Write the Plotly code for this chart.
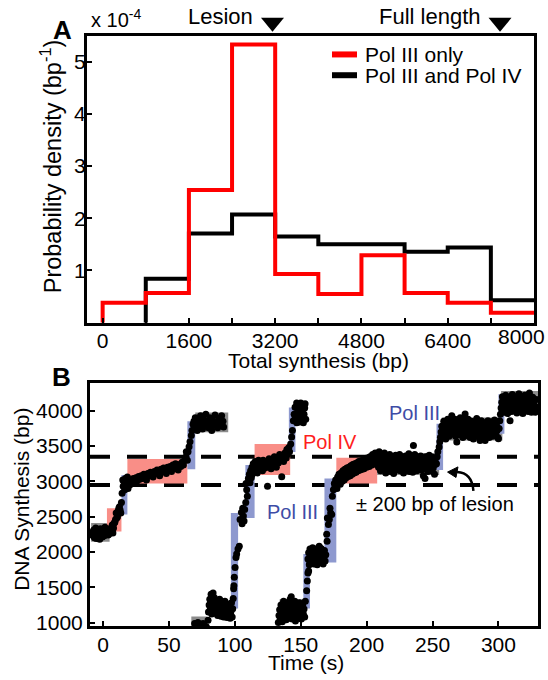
import plotly.graph_objects as go

W, H = 548, 680
FONT = "Liberation Sans, Arial, sans-serif"

# ---------------- Panel A data ----------------
bin_edges = [0, 800, 1600, 2400, 3200, 4000, 4800, 5600, 6400, 7200, 8000]
pol3_only = [0.38, 0.57, 2.54, 5.33, 0.93, 0.55, 1.29, 0.57, 0.38, 0.19]      # x 1e-4 bp^-1
pol3_pol4 = [0.0, 0.84, 1.71, 2.07, 1.65, 1.50, 1.50, 1.36, 1.44, 0.43]       # x 1e-4 bp^-1
hist_major_ticks = [0, 1600, 3200, 4800, 6400]
hist_minor_ticks = [800, 2400, 4000, 5600, 7200, 8000]
hist_last_label = "8000"
density_ticks = [1, 2, 3, 4, 5]
lesion_bp = 3150
full_length_bp = 7370
lesion_window = [2950, 3350]

# ---------------- Panel B data (time s, DNA synthesis bp) ----------------
run1 = [(-8, 2280), (-7.5, 2230), (-7, 2310), (-6.5, 2200), (-6, 2260), (-5.5, 2340), (-5, 2190),
        (-4.5, 2250), (-4, 2300), (-3.5, 2220), (-3, 2270), (-2.5, 2180), (-2, 2330), (-1.5, 2240),
        (-1, 2290), (-0.5, 2210), (0, 2260), (0.5, 2300), (1, 2230), (1.5, 2350), (2, 2270),
        (2.5, 2320), (3, 2250), (3.5, 2300), (4, 2240),
        (4.5, 2290), (5, 2260), (5.5, 2320), (6, 2340), (6.5, 2300), (7, 2380), (7.5, 2270),
        (8, 2340), (8.5, 2410), (9, 2420), (9.5, 2460), (10, 2550), (10.5, 2480), (11, 2500),
        (11.5, 2580), (12, 2620), (12.5, 2640), (13, 2590), (13.5, 2550),
        (14, 2700), (14.5, 2830), (15, 3020), (15.3, 2930), (16, 2990), (16.5, 2880), (17, 3040),
        (17.5, 2920), (18, 3000), (18.5, 3060), (19, 2900), (19.5, 2980), (20, 2950), (20.5, 3020),
        (21, 2960),
        (22, 3000), (23, 3040), (24, 2980), (25, 3050), (26, 3010), (27, 3070), (28, 3030),
        (29, 3080), (30, 3040), (31, 3100), (32, 3060), (33, 3020), (34, 3110), (35, 3080),
        (36, 3130), (37, 3090), (38, 3060), (39, 3140), (40, 3110), (41, 3160), (42, 3120),
        (43, 3080), (44, 3170), (45, 3140), (46, 3190), (47, 3150), (48, 3110), (49, 3200),
        (50, 3170), (51, 3210), (52, 3140), (53, 3230), (54, 3190), (55, 3250), (56, 3200),
        (57, 3160), (58, 3240), (59, 3210), (60, 3270), (61, 3230), (62, 3300), (63, 3350),
        (63.2, 3420),
        (64, 3300), (64.5, 3420), (65.3, 3490), (66, 3560), (67, 3650), (67.5, 3720), (68.3, 3810),
        (69, 3850), (69.5, 3760), (70, 3900), (71, 3800), (71.5, 3720), (72, 3870), (73, 3780),
        (74, 3930), (75, 3830), (75.5, 3740), (76, 3880), (77, 3800), (78, 3950), (79, 3850),
        (80, 3760), (81, 3900), (82, 3820), (82.5, 3720), (83, 3870), (84, 3790), (85, 3940),
        (86, 3840), (87, 3760), (88, 3890), (89, 3810), (90, 3930), (91, 3850), (91.5, 3770)]

run2 = [(69.5, 986), (71, 960), (72, 1000), (74, 970), (75.9, 986), (77, 950), (78.4, 939), (79.7, 1033),
        (80, 1150), (80.5, 1250), (81, 1330), (81.5, 1200), (82, 1400), (82.5, 1120), (83, 1280),
        (83.5, 1420), (84, 1180), (84.5, 1350), (85, 1240), (85.5, 1130), (86, 1300), (86.5, 1200),
        (87, 1100), (87.5, 1260), (88, 1170), (88.5, 1330), (89, 1220), (89.5, 1090), (90, 1280),
        (90.5, 1160), (91, 1240), (91.5, 1080), (92, 1200), (92.5, 1300), (93, 1130), (93.5, 1230),
        (94, 1070), (94.5, 1180), (95, 1260), (95.5, 1100), (96, 1210), (96.5, 1060), (97, 1150),
        (97.5, 1280), (98, 1080), (98.4, 1196),
        (98.8, 1340), (99.1, 1480), (99.3, 1520), (99.6, 1640), (100.2, 1780), (100.9, 1920),
        (101.4, 1970), (102.4, 2040), (103.4, 2080),
        (104, 2460), (105, 2560), (105.5, 2400), (106, 2620), (106.5, 2510), (107, 2440), (107.5, 2600),
        (108.3, 2700), (108.5, 2970), (109, 2880), (109.5, 2790), (110.3, 3040),
        (111, 3100), (111.5, 2980), (112, 3150), (112.5, 3050), (113, 3200), (113.5, 3100), (114, 3250),
        (115, 3150), (115.5, 3280), (116, 3200), (117, 3120), (117.5, 3240), (118, 3300), (119, 3180),
        (119.5, 3260), (120, 3220), (121, 3150), (121.5, 3300), (122, 3240), (123, 3190), (124, 3280),
        (124.8, 2930), (125, 3220), (126, 3320), (127, 3250), (127.5, 3180), (128, 3300), (129, 3230),
        (130, 3350), (131, 3270), (131.5, 3200), (132, 3320), (133, 3260), (134, 3380), (135, 3300),
        (135.6, 3065), (136, 3350), (137, 3280), (138, 3400), (139, 3330), (139.5, 3450), (140, 3380),
        (141, 3480),
        (141.5, 3420), (142.4, 3530), (143.1, 3630), (143.7, 3720), (144.4, 3860), (145, 3950),
        (145.7, 4050), (146, 3900), (146.9, 4110), (147, 3830), (147.5, 3980), (148.2, 4070),
        (148.5, 3930), (149, 3840), (149.5, 4020), (150, 4110), (150.7, 3890), (151, 3980),
        (151.5, 4080), (152, 3830), (152.5, 3950), (153, 4040), (153.3, 4100), (153.8, 3880)]

run3 = [(133, 1000), (133.5, 1100), (134, 1180), (134.5, 1050), (135, 1250), (135.5, 1120), (136, 1010),
        (136.5, 1200), (137, 1300), (137.5, 1080), (138, 1160), (138.5, 1240), (139, 1040), (139.5, 1190),
        (140, 1280), (140.5, 1110), (141, 1060), (141.5, 1220), (142, 1330), (142.8, 1364), (143, 1150),
        (143.5, 1050), (144, 1260), (144.5, 1180), (145, 1100), (145.5, 1300), (146, 1020), (146.5, 1200),
        (147, 1130), (147.5, 1250), (148, 1060), (148.5, 1170), (149, 1280), (149.5, 1100), (150, 1200),
        (150.5, 1050), (151, 1150), (151.5, 1240), (152, 1120), (152.5, 1190), (153, 1080),
        (153.5, 1300), (154.5, 1450), (155, 1590), (155.5, 1700), (156, 1730), (157, 1850),
        (155.5, 1900), (156, 1990), (156.5, 1820), (157, 2040), (157.5, 1930), (158, 1860), (158.5, 1980),
        (159, 2060), (159.5, 1900), (160, 1830), (160.5, 1960), (161, 2040), (161.5, 1880), (162, 1940),
        (162.5, 1820), (163, 2000), (163.5, 1910), (164, 2080), (164.5, 1850), (165, 1960), (165.5, 2050),
        (166, 1890), (166.5, 1980), (167, 1830), (167.5, 1930), (168, 2020), (168.5, 1870), (169, 1960),
        (169.7, 2250), (170, 2150), (170.2, 2480), (171, 2390), (171.7, 2460), (172.2, 2620), (172.7, 2550),
        (173.5, 2530), (174, 2790), (174.8, 2880), (175.5, 2970),
        (176, 2920), (176.5, 3020), (177, 2980), (177.5, 2900), (178, 3060), (178.5, 2990), (179, 3100),
        (179.5, 3030), (180, 2960), (180.5, 3120), (181, 3050), (181.5, 3000), (182, 3150), (182.5, 3080),
        (183, 3020), (183.5, 3170), (184, 3100), (184.5, 3050), (185, 3190), (185.5, 3120), (186, 3070),
        (186.5, 3200), (187, 3140), (187.5, 3080), (188, 3220), (188.5, 3160), (189, 3100), (189.5, 3240),
        (190, 3170), (190.5, 3120), (191, 3250), (191.5, 3190), (192, 3130), (192.5, 3260), (193, 3200),
        (193.5, 3150), (194, 3280), (194.5, 3210), (195, 3160), (195.5, 3290), (196, 3230), (196.5, 3170),
        (197, 3300), (197.5, 3240), (198, 3180), (198.5, 3320), (199, 3250), (200, 3200), (200.5, 3330),
        (201, 3270), (202, 3210), (202.5, 3350), (203, 3280), (204, 3230), (204.5, 3380), (205, 3300),
        (206, 3250), (206.5, 3400), (207, 3320), (208, 3270),
        (208.5, 3350), (209, 3200), (209.5, 3420), (210, 3280), (210.5, 3150), (211, 3330), (211.5, 3250),
        (212, 3380), (212.5, 3180), (213, 3300), (213.5, 3400), (214, 3230), (214.5, 3120), (215, 3350),
        (215.5, 3260), (216, 3180), (216.5, 3320), (217, 3230), (217.5, 3380), (218, 3140), (218.5, 3280),
        (219, 3200), (219.5, 3350), (220, 3250), (220.5, 3110), (221, 3300), (221.5, 3220), (222, 3370),
        (222.5, 3160), (223, 3270), (223.5, 3330), (224, 3200), (224.5, 3250), (225, 3380), (225.5, 3150),
        (226, 3290), (226.5, 3210), (227, 3340), (227.5, 3240), (228, 3120), (228.5, 3300), (229, 3200),
        (229.5, 3360), (230, 3260), (230.5, 3170), (231, 3310), (231.5, 3230), (232, 3390), (232.5, 3140),
        (233, 3280), (233.5, 3200), (234, 3350), (234.5, 3240), (235, 3130), (235.5, 3509), (236, 3290),
        (236.5, 3380), (237, 3210), (237.5, 3310), (238, 3150), (238.5, 3260), (239, 3340), (239.5, 3190),
        (240, 3280), (240.5, 3230), (241, 3360), (241.5, 3160), (242, 3300), (242.5, 3210), (243, 3080),
        (243.5, 3320), (244, 3250), (244.3, 3042), (244.5, 3180), (245, 3350), (245.5, 3230), (246, 3300),
        (246.5, 3140), (247, 3270), (247.5, 3370), (248, 3200), (248.5, 3310), (249, 3150), (249.5, 3260),
        (250, 3340), (250.5, 3190), (251, 3290), (251.5, 3100), (252, 3240), (252.5, 3330),
        (253, 3250), (253.5, 3350), (254, 3420), (255, 3486), (255.5, 3560), (256, 3626), (256.5, 3700),
        (257, 3780), (257.5, 3650), (258, 3720), (258.5, 3850), (259, 3680), (259.5, 3760), (260, 3600),
        (260.5, 3820), (261, 3700), (261.5, 3880), (262, 3740), (262.5, 3640), (263, 3800), (263.5, 3710),
        (264, 3860), (264.6, 3930), (265, 3760), (265.5, 3670), (266, 3820), (266.5, 3730), (267, 3880),
        (267.5, 3640), (268, 3780), (268.4, 3556), (269, 3700), (269.5, 3840), (270, 3750), (270.5, 3660),
        (271, 3900), (271.5, 3790), (272, 3700), (272.5, 3830), (273, 3620), (273.5, 3760), (274, 3870),
        (274.7, 3953), (275, 3710), (275.5, 3800), (276, 3650), (276.5, 3760), (277, 3880), (277.5, 3700),
        (278, 3800), (278.5, 3620), (279, 3740), (279.5, 3850), (280, 3690), (280.5, 3780), (281, 3600),
        (281.5, 3720), (282, 3840), (282.5, 3680), (283, 3760), (283.5, 3890), (284, 3640), (284.5, 3740),
        (285, 3820), (285.5, 3690), (286, 3580), (286.5, 3760), (287, 3860), (287.5, 3700), (288, 3800),
        (288.5, 3650), (289, 3740), (289.9, 3579), (290, 3830), (290.5, 3720), (291, 3640), (291.5, 3780),
        (292, 3860), (292.5, 3700), (293, 3620), (293.5, 3770), (294, 3690), (294.5, 3840), (295, 3730),
        (295.5, 3640), (296, 3800), (296.5, 3700), (297, 3870), (297.5, 3760), (298, 3660), (298.5, 3800),
        (299, 3720), (299.5, 3620), (300, 3603),
        (300.5, 3750), (301, 3860), (301.5, 3950), (302, 4040), (302.5, 4120), (303, 4200),
        (303.5, 4050), (304, 4150), (304.5, 3980), (305, 4100), (305.5, 4220), (306, 4020), (306.5, 4130),
        (307, 3960), (307.5, 4080), (308, 4180), (308.8, 3860), (309, 4050), (309.5, 4140), (310, 3990),
        (310.5, 4230), (311, 4070), (311.5, 4160), (312, 4000), (312.5, 4100), (313, 4200), (313.5, 4040),
        (314, 3970), (314.5, 4130), (315, 4060), (315.5, 4240), (316, 4000), (316.5, 4110), (317, 4180),
        (317.5, 4030), (318, 4090), (318.5, 3960), (319, 4150), (319.5, 4060), (320, 4220), (320.5, 4010),
        (321, 4120), (321.5, 4070), (322, 4180), (322.5, 3990), (323, 4100), (323.5, 4250), (324, 4040),
        (324.5, 4150), (325, 3980), (325.5, 4080), (326, 4190), (326.5, 4020), (327, 4120), (327.5, 4060),
        (328, 3980), (328.5, 4160), (329, 4050)]

# step-fit segments: (kind, t_start, t_end, bp_low, bp_high)
segments = [("gray", -9, 5, 2145, 2410), ("pol4", 3, 14, 2290, 2620), ("pol3", 14, 18.5, 2530, 3090),
            ("pol4", 18.5, 64, 2970, 3315), ("pol3", 64, 70, 3170, 3850), ("gray", 70, 95, 3695, 3975),
            ("gray", 67, 79, 940, 1085), ("pol3", 97, 102.5, 1200, 2550), ("pol3", 108, 115, 2480, 3230),
            ("pol4", 115, 142, 3090, 3530), ("pol3", 141, 146, 3415, 4045), ("gray", 134, 153, 1130, 1330),
            ("pol3", 152, 157, 1200, 1970), ("pol3", 168, 177, 1850, 3040), ("pol4", 177, 208, 2970, 3335),
            ("gray", 208, 255, 3090, 3400), ("pol3", 253, 258, 3160, 3815), ("gray", 257, 303, 3580, 3905),
            ("pol3", 300, 304.5, 3675, 4235), ("gray", 302, 330, 3955, 4280)]
time_ticks = [0, 50, 100, 150, 200, 250, 300]
bp_ticks = [1000, 1500, 2000, 2500, 3000, 3500, 4000]

# ---------------- helpers ----------------
def pxx(x):
    return x / W

def pxy(y):
    return 1 - y / H

def steps(edges, vals):
    k = 0
    while k < len(vals) and vals[k] == 0:
        k += 1
    e = edges[k:]
    v = vals[k:]
    xs = [e[0]] + e[:-1] + [e[-1]]
    ys = [0] + v + [v[-1]]
    return xs, ys

seg_color = {"gray": "#8C8C8C", "pol4": "#F98E87", "pol3": "#8E99CF"}

fig = go.Figure()

# Panel A histograms
bx, by = steps(bin_edges, pol3_pol4)
rx, ry = steps(bin_edges, pol3_only)
fig.add_trace(go.Scatter(x=bx, y=by, mode="lines", name="Pol III and Pol IV",
                         line=dict(color="black", width=4, shape="hv"), xaxis="x", yaxis="y",
                         showlegend=False))
fig.add_trace(go.Scatter(x=rx, y=ry, mode="lines", name="Pol III only",
                         line=dict(color="#FF0000", width=4, shape="hv"), xaxis="x", yaxis="y",
                         showlegend=False))
ya_range = [0, 5.5]
xa_range = [-290, 8000]

# Panel B points
for run in (run1, run2, run3):
    fig.add_trace(go.Scatter(x=[p[0] for p in run], y=[p[1] for p in run], mode="markers",
                             marker=dict(color="black", size=7, line=dict(width=0)),
                             xaxis="x2", yaxis="y2", showlegend=False))

shapes = []
# lesion / full-length markers above panel A
half_w = 11.5 * (xa_range[1] - xa_range[0]) / (534 - 87)
for pos in (lesion_bp, full_length_bp):
    shapes.append(dict(type="path", xref="x", yref="paper",
                       path=f"M{pos - half_w},{pxy(18)} L{pos + half_w},{pxy(18)} L{pos},{pxy(32)} Z",
                       fillcolor="black", line=dict(width=0)))
for kind, t0, t1, b0, b1 in segments:
    shapes.append(dict(type="rect", xref="x2", yref="y2", x0=t0, x1=t1, y0=b0, y1=b1,
                       fillcolor=seg_color[kind], line=dict(width=0), layer="below"))
for yv in lesion_window:
    shapes.append(dict(type="line", xref="x2 domain", yref="y2", x0=0, x1=1, y0=yv, y1=yv,
                       line=dict(color="black", width=4, dash="20px,17px"), layer="below"))
# curved arrow
shapes.append(dict(type="path", xref="x2", yref="y2", path="M281,2864 Q280,3120 268.6,3131",
                   line=dict(color="black", width=2.5)))
shapes.append(dict(type="path", xref="x2", yref="y2", path="M261.4,3131 L269.3,3205 L267.8,3055 Z",
                   fillcolor="black", line=dict(color="black", width=1)))
# legend samples
shapes.append(dict(type="line", xref="paper", yref="paper", x0=pxx(332), x1=pxx(357), y0=pxy(55), y1=pxy(55),
                   line=dict(color="#FF0000", width=6)))
shapes.append(dict(type="line", xref="paper", yref="paper", x0=pxx(332), x1=pxx(357), y0=pxy(76), y1=pxy(76),
                   line=dict(color="black", width=6)))

ann = []
def txt(text, x, y, size=21, xanchor="center", yanchor="middle", color="black", xref="paper", yref="paper",
        angle=0, **kw):
    ann.append(dict(text=text, x=x, y=y, xref=xref, yref=yref, showarrow=False, xanchor=xanchor,
                    yanchor=yanchor, textangle=angle, font=dict(family=FONT, size=size, color=color), **kw))

txt("<b>A</b>", pxx(62), pxy(30), size=26)
txt("<b>B</b>", pxx(61), pxy(381), size=26)
txt("x 10<sup>-4</sup>", pxx(89), pxy(19), size=20, xanchor="left")
txt("Lesion", lesion_bp, pxy(17), size=22, xref="x", xanchor="right", xshift=-17)
txt("Full length", full_length_bp, pxy(17), size=22, xref="x", xanchor="right", xshift=-17)
txt("Pol III only", pxx(363), pxy(55), xanchor="left")
txt("Pol III and Pol IV", pxx(363), pxy(76), xanchor="left")
txt("Probability density (bp<sup>-1</sup>)", pxx(51), pxy(168), size=23.5, angle=-90)
txt("Total synthesis (bp)", pxx(318), pxy(364))
txt(hist_last_label, pxx(547), pxy(340), xanchor="right")
txt("DNA Synthesis (bp)", pxx(22), pxy(505), angle=-90)
txt("Time (s)", pxx(306), pxy(669))
txt("Pol IV", 172, 3551, size=20, color="#FF1E1E", xref="x2", yref="y2")
txt("Pol III", 143.8, 2570, size=20, color="#3E4CA6", xref="x2", yref="y2")
txt("Pol III", 236, 3972, size=20, color="#3E4CA6", xref="x2", yref="y2")
txt("± 200 bp of lesion", 252, 2682, size=20, xref="x2", yref="y2")

axis_common = dict(showline=True, linewidth=3, linecolor="black", mirror=True, ticks="inside",
                   ticklen=5, tickwidth=2, tickcolor="black", showgrid=False, zeroline=False,
                   tickfont=dict(family=FONT, size=21, color="black"))

fig.update_layout(
    width=W, height=H, margin=dict(l=0, r=0, t=0, b=0),
    paper_bgcolor="white", plot_bgcolor="white", showlegend=False,
    xaxis=dict(domain=[pxx(87), pxx(534)], range=xa_range, tickvals=hist_major_ticks, anchor="y",
               ticklabelstandoff=-3,
               minor=dict(tickvals=hist_minor_ticks, ticks="inside", ticklen=5, tickwidth=2,
                          tickcolor="black", showgrid=False),
               **axis_common),
    yaxis=dict(domain=[pxy(326), pxy(36)], range=ya_range, tickvals=density_ticks, anchor="x",
               ticklabelstandoff=-6, **axis_common),
    xaxis2=dict(domain=[pxx(90), pxx(538)], range=[-9.86, 330], tickvals=time_ticks, anchor="y2",
                ticklabelstandoff=-3, **axis_common),
    yaxis2=dict(domain=[pxy(633), pxy(387)], range=[944, 4393], tickvals=bp_ticks, anchor="x2",
                **axis_common),
    shapes=shapes, annotations=ann,
)

fig.write_html("out.html")
